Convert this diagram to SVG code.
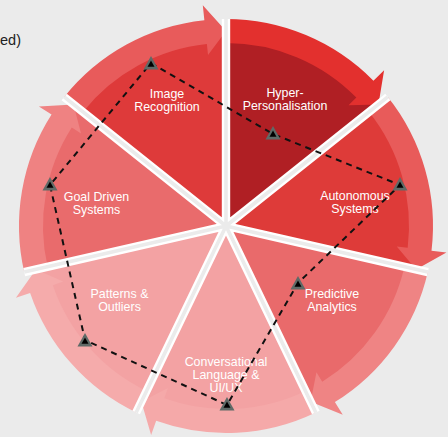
<svg xmlns="http://www.w3.org/2000/svg" xmlns:xlink="http://www.w3.org/1999/xlink" width="448" height="437" viewBox="0 0 448 437">
<style>
.lbl{font-family:"Liberation Sans",Arial,sans-serif;font-size:12.4px;fill:#ffffff;text-anchor:middle}
.gapw{stroke:#ffffff;stroke-width:8.4;stroke-linecap:butt;fill:none}
.gapg{stroke:#ebebeb;stroke-width:3.6;stroke-linecap:butt;fill:none}
.dash{fill:none;stroke:#111111;stroke-width:2;stroke-dasharray:6 5}
</style>
<defs>
<g id="tri"><polygon points="0,-8 7.5,5.5 -7.5,5.5" fill="#5f6a67"/><polygon points="0,-3.5 3.5,2.8 -3.5,2.8" fill="#000000"/></g>
</defs>
<rect width="448" height="437" fill="#ebebeb"/>
<text x="0" y="45" font-family="Liberation Sans, Arial, sans-serif" font-size="14.5" fill="#222222">ed)</text>

<g id="hyper">
<path d="M226,226 L226,31 A195,195 0 0 1 378.45,104.42 Z" fill="#b01f24"/>
<path d="M226,19 A207,207 0 0 1 373.43,80.71 L384.11,70.18 L378.45,104.42 L348.50,105.27 L356.33,97.55 A183,183 0 0 0 226,43 Z" fill="#e3302e"/>
</g>
<g id="autonomous">
<path d="M226,226 L378.45,104.42 A195,195 0 0 1 416.11,269.39 Z" fill="#de3b39"/>
<path d="M387.83,96.94 A207,207 0 0 1 431.51,250.72 L446.40,252.51 L416.11,269.39 L396.76,246.54 L407.68,247.85 A183,183 0 0 0 369.07,111.90 Z" fill="#e85b5a"/>
</g>
<g id="predictive">
<path d="M226,226 L416.11,269.39 A195,195 0 0 1 310.61,401.70 Z" fill="#e96a6b"/>
<path d="M427.80,272.06 A207,207 0 0 1 334.86,402.05 L342.75,414.81 L310.61,401.70 L316.45,372.29 L322.24,381.64 A183,183 0 0 0 404.41,266.72 Z" fill="#ef8484"/>
</g>
<g id="conversational">
<path d="M226,226 L310.61,401.70 A195,195 0 0 1 141.39,401.70 Z" fill="#f3a2a3"/>
<path d="M315.82,412.51 A207,207 0 0 1 156.18,420.87 L151.12,434.99 L141.39,401.70 L167.98,387.92 L164.27,398.28 A183,183 0 0 0 305.40,390.88 Z" fill="#f5a9a9"/>
</g>
<g id="patterns">
<path d="M226,226 L141.39,401.70 A195,195 0 0 1 35.89,269.39 Z" fill="#f3a2a3"/>
<path d="M136.18,412.51 A207,207 0 0 1 30.12,292.90 L15.92,297.75 L35.89,269.39 L63.24,281.59 L52.83,285.15 A183,183 0 0 0 146.60,390.88 Z" fill="#f5abab"/>
</g>
<g id="goal">
<path d="M226,226 L35.89,269.39 A195,195 0 0 1 73.55,104.42 Z" fill="#e96b6c"/>
<path d="M24.20,272.06 A207,207 0 0 1 51.54,114.57 L38.90,106.50 L73.55,104.42 L81.04,133.41 L71.77,127.49 A183,183 0 0 0 47.59,266.72 Z" fill="#ef8282"/>
</g>
<g id="image">
<path d="M226,226 L73.55,104.42 A195,195 0 0 1 226,31 Z" fill="#de3a3a"/>
<path d="M64.17,96.94 A207,207 0 0 1 204.37,20.14 L202.80,5.22 L226,31 L208.03,54.95 L206.88,44.01 A183,183 0 0 0 82.93,111.90 Z" fill="#e85b5b"/>
</g>

<g id="gaps">
<path class="gapw" d="M226,226 L226,19 M226,226 L387.83,96.94 M226,226 L427.80,272.06 M226,226 L315.82,412.51 M226,226 L136.18,412.51 M226,226 L24.20,272.06 M226,226 L64.17,96.94"/>
<path class="gapg" d="M226,226 L226,19 M226,226 L387.83,96.94 M226,226 L427.80,272.06 M226,226 L315.82,412.51 M226,226 L136.18,412.51 M226,226 L24.20,272.06 M226,226 L64.17,96.94"/>
</g>

<g id="labels">
<text class="lbl" x="167" y="98">Image</text>
<text class="lbl" x="167" y="111">Recognition</text>
<text class="lbl" x="285" y="97">Hyper-</text>
<text class="lbl" x="285" y="110">Personalisation</text>
<text class="lbl" x="355" y="200">Autonomous</text>
<text class="lbl" x="355" y="213">Systems</text>
<text class="lbl" x="332" y="298">Predictive</text>
<text class="lbl" x="332" y="311">Analytics</text>
<text class="lbl" x="226" y="366">Conversational</text>
<text class="lbl" x="226" y="379">Language &amp;</text>
<text class="lbl" x="226" y="392">UI/UX</text>
<text class="lbl" x="119.5" y="298">Patterns &amp;</text>
<text class="lbl" x="119.5" y="311">Outliers</text>
<text class="lbl" x="96.5" y="201">Goal Driven</text>
<text class="lbl" x="96.5" y="214">Systems</text>
</g>

<g id="connectors">
<path class="dash" d="M151,63 L273,134 L400,185 L298,283 L227,405 L85,340 L50,185 Z"/>
</g>
<g id="markers">
<use xlink:href="#tri" x="151" y="64"/>
<use xlink:href="#tri" x="273" y="134"/>
<use xlink:href="#tri" x="400" y="185"/>
<use xlink:href="#tri" x="298" y="284"/>
<use xlink:href="#tri" x="227" y="405"/>
<use xlink:href="#tri" x="85" y="341"/>
<use xlink:href="#tri" x="50" y="185"/>
</g>
</svg>
